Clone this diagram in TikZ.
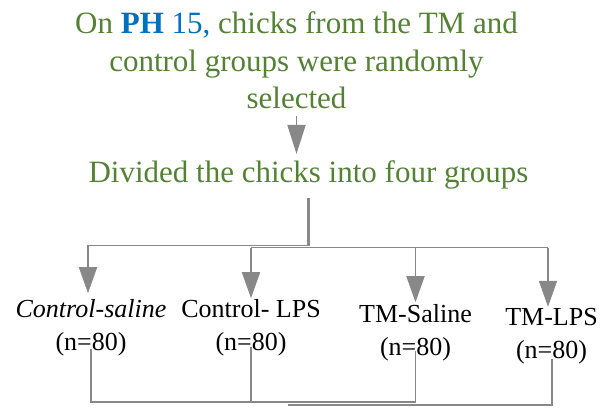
\documentclass[tikz,border=0pt]{standalone}
\usepackage{fontspec}
\setmainfont{Liberation Serif}
\usetikzlibrary{arrows.meta,calc}
\definecolor{titlegreen}{RGB}{84,130,53}
\definecolor{phblue}{RGB}{0,112,192}
\definecolor{linegray}{RGB}{136,136,136}
\begin{document}
\begin{tikzpicture}[x=1pt,y=-1pt,
  conn/.style={draw=linegray, line width=1.8pt},
  arr/.style={conn, -{Triangle[width=18pt,length=26pt]}},
  headline/.style={font=\fontsize{31}{37.5}\selectfont, text=titlegreen, align=center, inner sep=0pt},
  grp/.style={font=\fontsize{26}{33}\selectfont, align=center, inner sep=0pt, anchor=north},
]
\useasboundingbox (0,0) rectangle (600,408);

% headings
\node[headline, anchor=north] (title) at (296.5,11.8)
  {On \textcolor{phblue}{\textbf{PH} 15,} chicks from the TM and\\
   control groups were randomly\\
   selected};
\node[headline, anchor=base] (divided) at (308.5,182)
  {Divided the chicks into four groups};

% the four groups
\node[grp] (g1) at (91,299.2)    {\textit{Control-saline}\\(n=80)};
\node[grp] (g2) at (251,299.2)   {Control- LPS\\(n=80)};
\node[grp] (g3) at (415.5,304.2) {TM-Saline\\(n=80)};
\node[grp] (g4) at (551.5,307.8) {TM-LPS\\(n=80)};

% routing points
\coordinate (split) at (308.5,245.5);
\coordinate (bus) at (0,247.5);
\coordinate (lowA) at (0,402);
\coordinate (lowB) at (0,405);
\coordinate (tail) at (288,405);

% selection -> division
\draw[conn, -{Triangle[width=18pt,length=29pt]}]
  ([yshift=-7pt]title.south) -- ($(title.south |- divided.north)+(0,-6)$);

% division -> groups
\draw[conn, line width=2.6pt] ([yshift=-9pt]divided.south) -- (split);
\draw[arr] (split) -| ($(g1.north)+(-3,-6)$);
\draw[conn] (g2.north |- bus) -- ($(g4.north |- bus)+(-3.5,0)$);
\draw[arr] (g2.north |- bus) -- ([yshift=1pt]g2.north);
\draw[arr] (g3.north |- bus) -- ([yshift=2pt]g3.north);
\draw[arr] ($(g4.north |- bus)+(-3.5,0)$) -- ($(g4.north)+(-3.5,-1)$);

% groups joined again below
\draw[conn] ([yshift=7pt]g1.south) -- (g1.south |- lowA) -- (g3.south |- lowA)
  -- ([yshift=10pt]g3.south);
\draw[conn] ([yshift=9pt]g2.south) -- (g2.south |- lowA);
\draw[conn] (tail) -- ($(g4.south |- lowB)+(0.5,0)$) -- ($(g4.south)+(0.5,-5)$);
\end{tikzpicture}
\end{document}
